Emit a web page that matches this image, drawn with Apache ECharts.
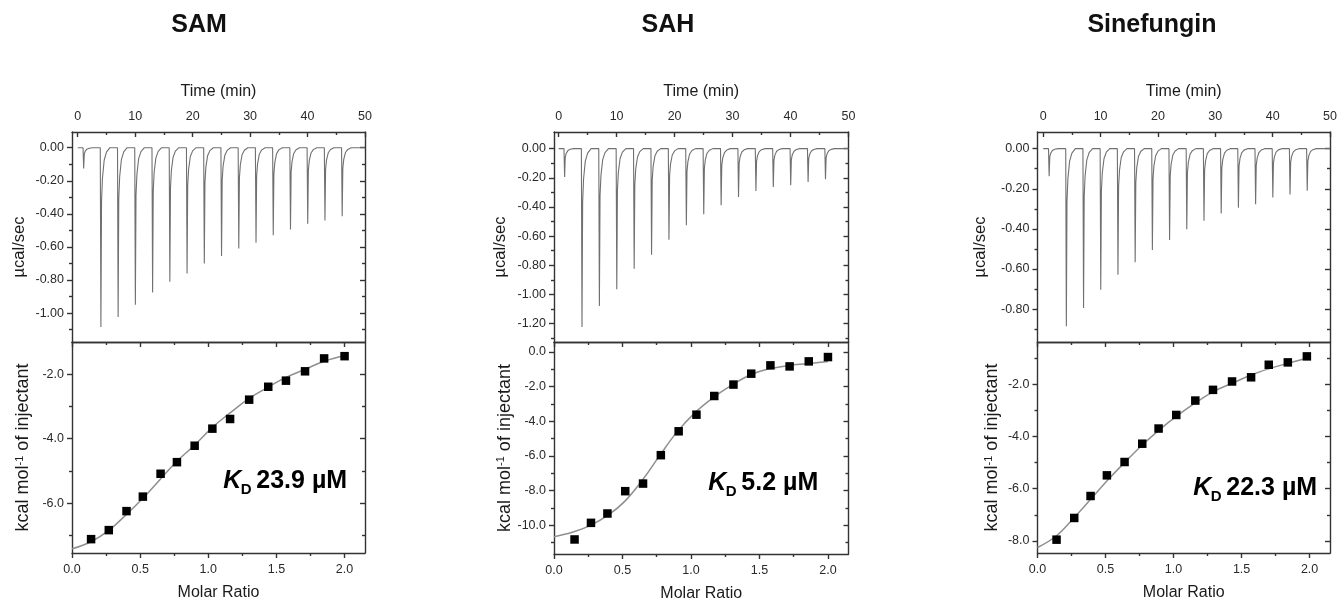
<!DOCTYPE html>
<html><head><meta charset="utf-8">
<script src="https://cdn.jsdelivr.net/npm/echarts@6/dist/echarts.min.js"></script>
<style>html,body{margin:0;padding:0;background:#fff}#c{width:1338px;height:602px}</style>
</head><body><div id="c"></div>
<script>
// ---------------- data ----------------
const panelTitles = ['SAM', 'SAH', 'Sinefungin'];
const kdLabels = ['23.9 µM', '5.2 µM', '22.3 µM'];

// raw ITC trace: injection times (min) and peak depths (µcal/sec)
const injTime = [1, 4, 7, 10, 13, 16, 19, 22, 25, 28, 31, 34, 37, 40, 43, 46];
const peakSAM = [-0.125, -1.085, -1.024, -0.95, -0.875, -0.81, -0.76, -0.70, -0.655, -0.61, -0.575, -0.53, -0.495, -0.46, -0.44, -0.415];
const peakSAH = [-0.194, -1.223, -1.079, -0.965, -0.823, -0.727, -0.624, -0.526, -0.45, -0.389, -0.331, -0.29, -0.263, -0.251, -0.229, -0.21];
const peakSine = [-0.137, -0.886, -0.795, -0.704, -0.629, -0.566, -0.505, -0.455, -0.402, -0.359, -0.323, -0.295, -0.277, -0.243, -0.229, -0.21];
// shape of one injection peak: [minutes after injection, fraction of peak depth]
const peakShape = [[-0.08, 0], [0.03, 1], [0.14, 0.3], [0.3, 0.17], [0.6, 0.07], [1.0, 0.025], [1.6, 0]];

// integrated heats
const molarSAM = [0.14, 0.27, 0.40, 0.52, 0.65, 0.77, 0.90, 1.03, 1.16, 1.30, 1.44, 1.57, 1.71, 1.85, 2.00];
const heatSAM = [-7.12, -6.84, -6.25, -5.80, -5.09, -4.73, -4.22, -3.69, -3.39, -2.79, -2.39, -2.20, -1.91, -1.51, -1.44];
const molarSAH = [0.15, 0.27, 0.39, 0.52, 0.65, 0.78, 0.91, 1.04, 1.17, 1.31, 1.44, 1.58, 1.72, 1.86, 2.00];
const heatSAH = [-10.83, -9.87, -9.33, -8.04, -7.60, -5.96, -4.58, -3.62, -2.54, -1.88, -1.25, -0.77, -0.83, -0.54, -0.29];
const molarSine = [0.14, 0.27, 0.39, 0.51, 0.64, 0.77, 0.89, 1.02, 1.16, 1.29, 1.43, 1.57, 1.70, 1.84, 1.98];
const heatSine = [-7.95, -7.12, -6.28, -5.49, -4.98, -4.28, -3.70, -3.18, -2.63, -2.22, -1.90, -1.74, -1.26, -1.17, -0.94];

// fitted curves read at these molar ratios
const fitX = [0, 0.14, 0.27, 0.40, 0.52, 0.65, 0.77, 0.90, 1.03, 1.16, 1.30, 1.44, 1.57, 1.71, 1.85, 2.00];
const fitSAM = [-7.42, -7.20, -6.85, -6.35, -5.85, -5.25, -4.70, -4.20, -3.65, -3.20, -2.75, -2.40, -2.10, -1.85, -1.60, -1.42];
const fitSAH = [-10.67, -10.40, -10.00, -9.40, -8.60, -7.35, -6.00, -4.60, -3.50, -2.65, -1.90, -1.30, -0.97, -0.78, -0.67, -0.54];
const fitSine = [-8.25, -7.80, -7.10, -6.35, -5.65, -4.95, -4.33, -3.73, -3.20, -2.72, -2.27, -1.95, -1.65, -1.40, -1.19, -0.98];

// tick values
const timeTicks = [0, 10, 20, 30, 40, 50];
const timeMinor = [5, 15, 25, 35, 45];
const molarTicks = [0, 0.5, 1.0, 1.5, 2.0];
const molarMinor = [0.25, 0.75, 1.25, 1.75];
const rateTicksSAM = [0, -0.2, -0.4, -0.6, -0.8, -1.0];
const rateMinorSAM = [-0.1, -0.3, -0.5, -0.7, -0.9, -1.1];
const rateTicksSAH = [0, -0.2, -0.4, -0.6, -0.8, -1.0, -1.2];
const rateMinorSAH = [-0.1, -0.3, -0.5, -0.7, -0.9, -1.1, -1.3];
const rateTicksSine = [0, -0.2, -0.4, -0.6, -0.8];
const rateMinorSine = [-0.1, -0.3, -0.5, -0.7, -0.9];
const heatTicksSAM = [-2, -4, -6];
const heatMinorSAM = [-3, -5, -7];
const heatTicksSAH = [0, -2, -4, -6, -8, -10];
const heatMinorSAH = [-1, -3, -5, -7, -9, -11];
const heatTicksSine = [-2, -4, -6, -8];
const heatMinorSine = [-1, -3, -5, -7];

// axis ranges
const timeMin = [-1, -0.8, -1];
const timeMax = [50, 50, 50];
const rateRange = [[-1.175, 0.095], [-1.326, 0.114], [-0.964, 0.083]];
const heatRange = [[-7.55, -1.0], [-11.67, 0.58], [-8.46, -0.39]];
const molarMax = 2.15;

// ---------------- layout (pixels) ----------------
const gridLeft = [72, 554, 1037.5];
const gridWidth = [293, 294.5, 292.5];
const topTop = 132, topH = 210, botTop = 342;
const botH = [211, 212, 211];
const titleX = [199, 668, 1152];
const kdX = [223.3, 708.3, 1193.3];
const kdBase = [489.3, 491.7, 496.7];
const rateNameGap = [44, 45, 49];
const heatNameGap = [40, 40, 36];

const FONT = '"Liberation Sans", Arial, Helvetica, sans-serif';
const AX = '#333';
const lineSt = { color: AX, width: 1.4 };

const peaksList = [peakSAM, peakSAH, peakSine];
const molarList = [molarSAM, molarSAH, molarSine];
const heatList = [heatSAM, heatSAH, heatSine];
const fitList = [fitSAM, fitSAH, fitSine];
const rateTicksList = [rateTicksSAM, rateTicksSAH, rateTicksSine];
const rateMinorList = [rateMinorSAM, rateMinorSAH, rateMinorSine];
const heatTicksList = [heatTicksSAM, heatTicksSAH, heatTicksSine];
const heatMinorList = [heatMinorSAM, heatMinorSAH, heatMinorSine];

function buildTrace(times, peaks) {
  const pts = [[0, 0]];
  times.forEach((t, i) => {
    peakShape.forEach(s => pts.push([t + s[0], peaks[i] * s[1]]));
  });
  pts.push([50, 0]);
  return pts;
}
function zipXY(xs, ys) { return xs.map((x, i) => [x, ys[i]]); }

const labelSt = { color: '#2a2a2a', fontSize: 12.5, fontFamily: FONT };
const nameSt = { color: '#1a1a1a', fontSize: 16, fontFamily: FONT };

// x-axes for one grid: labelled side + opposite (frame) side
function makeX(gi, min, max, majors, minors, side, fmt, name, nameGap, margin) {
  const labelOut = side === 'bottom';
  const other = side === 'top' ? 'bottom' : 'top';
  const oppTicks = other === 'top';
  const base = { gridIndex: gi, type: 'value', min, max, splitLine: { show: false } };
  return [
    Object.assign({}, base, {
      position: side, name, nameLocation: 'middle', nameGap, nameTextStyle: nameSt,
      axisLine: { show: true, onZero: false, lineStyle: lineSt },
      axisTick: { show: true, inside: !labelOut, length: 5, customValues: majors, lineStyle: lineSt },
      axisLabel: Object.assign({ show: true, customValues: majors, formatter: fmt, margin }, labelSt)
    }),
    Object.assign({}, base, {
      position: side,
      axisLine: { show: false, onZero: false },
      axisTick: { show: true, inside: !labelOut, length: 3, customValues: minors, lineStyle: lineSt },
      axisLabel: { show: false }
    }),
    Object.assign({}, base, {
      position: other,
      axisLine: { show: true, onZero: false, lineStyle: lineSt },
      axisTick: { show: oppTicks, inside: true, length: 5, customValues: majors, lineStyle: lineSt },
      axisLabel: { show: false }
    }),
    Object.assign({}, base, {
      position: other,
      axisLine: { show: false, onZero: false },
      axisTick: { show: oppTicks, inside: true, length: 3, customValues: minors, lineStyle: lineSt },
      axisLabel: { show: false }
    })
  ];
}
function makeY(gi, min, max, majors, minors, fmt, name, nameGap, nameStyle) {
  const base = { gridIndex: gi, type: 'value', min, max, splitLine: { show: false } };
  return [
    Object.assign({}, base, {
      position: 'left', name, nameLocation: 'middle', nameGap, nameTextStyle: nameStyle,
      axisLine: { show: true, onZero: false, lineStyle: lineSt },
      axisTick: { show: true, inside: false, length: 5, customValues: majors, lineStyle: lineSt },
      axisLabel: Object.assign({ show: true, customValues: majors, formatter: fmt, margin: 8 }, labelSt)
    }),
    Object.assign({}, base, {
      position: 'left',
      axisLine: { show: false, onZero: false },
      axisTick: { show: true, inside: false, length: 3, customValues: minors, lineStyle: lineSt },
      axisLabel: { show: false }
    }),
    Object.assign({}, base, {
      position: 'right',
      axisLine: { show: true, onZero: false, lineStyle: lineSt },
      axisTick: { show: true, inside: true, length: 5, customValues: majors, lineStyle: lineSt },
      axisLabel: { show: false }
    }),
    Object.assign({}, base, {
      position: 'right',
      axisLine: { show: false, onZero: false },
      axisTick: { show: true, inside: true, length: 3, customValues: minors, lineStyle: lineSt },
      axisLabel: { show: false }
    })
  ];
}

const grid = [], xAxis = [], yAxis = [], series = [], graphic = [];

panelTitles.forEach((title, i) => {
  const gT = grid.length;
  grid.push({ left: gridLeft[i], width: gridWidth[i], top: topTop, height: topH, containLabel: false, outerBoundsMode: 'none' });
  const gB = grid.length;
  grid.push({ left: gridLeft[i], width: gridWidth[i], top: botTop, height: botH[i], containLabel: false, outerBoundsMode: 'none' });

  const xT = xAxis.length;
  xAxis.push(...makeX(gT, timeMin[i], timeMax[i], timeTicks, timeMinor, 'top', v => String(v), 'Time (min)', 32, 9));
  const yT = yAxis.length;
  yAxis.push(...makeY(gT, rateRange[i][0], rateRange[i][1], rateTicksList[i], rateMinorList[i],
    v => v.toFixed(2), 'µcal/sec', rateNameGap[i],
    Object.assign({}, nameSt, { fontSize: 16.5, padding: [0, 20, 0, 0] })));

  const xB = xAxis.length;
  xAxis.push(...makeX(gB, 0, molarMax, molarTicks, molarMinor, 'bottom', v => v.toFixed(1), 'Molar Ratio', 32, 10.5));
  const yB = yAxis.length;
  yAxis.push(...makeY(gB, heatRange[i][0], heatRange[i][1], heatTicksList[i], heatMinorList[i],
    v => v.toFixed(1), 'kcal mol{sup|-1} of injectant', heatNameGap[i],
    Object.assign({}, nameSt, { fontSize: 18, rich: { sup: { fontSize: 11, fontFamily: FONT, color: '#1a1a1a', verticalAlign: 'top', padding: [0, 0, 7, 0] } } })));

  series.push({
    type: 'line', xAxisIndex: xT, yAxisIndex: yT, data: buildTrace(injTime, peaksList[i]),
    showSymbol: false, symbol: 'none', lineStyle: { color: '#707070', width: 1.1 }, silent: true, animation: false
  });
  series.push({
    type: 'line', xAxisIndex: xB, yAxisIndex: yB, data: zipXY(fitX, fitList[i]), smooth: 0.4,
    showSymbol: false, symbol: 'none', lineStyle: { color: '#8f8f8f', width: 1.5 }, silent: true, animation: false
  });
  series.push({
    type: 'scatter', xAxisIndex: xB, yAxisIndex: yB, data: zipXY(molarList[i], heatList[i]),
    symbol: 'rect', symbolSize: 8.5, itemStyle: { color: '#000', opacity: 1 }, silent: true, animation: false, z: 5
  });

  graphic.push({ type: 'text', x: titleX[i], y: 33.3 - 0.3465 * 25,
    style: { text: title, font: 'bold 25px ' + FONT, fill: '#111', align: 'center', textAlign: 'center', verticalAlign: 'middle', textVerticalAlign: 'middle' } });
  graphic.push({ type: 'text', x: kdX[i], y: kdBase[i] - 0.3465 * 25,
    style: { text: 'K', font: 'italic bold 25px ' + FONT, fill: '#000', align: 'left', textAlign: 'left', verticalAlign: 'middle', textVerticalAlign: 'middle' } });
  graphic.push({ type: 'text', x: kdX[i] + 17.4, y: kdBase[i] + 5.7 - 0.3465 * 15,
    style: { text: 'D', font: 'bold 15px ' + FONT, fill: '#000', align: 'left', textAlign: 'left', verticalAlign: 'middle', textVerticalAlign: 'middle' } });
  graphic.push({ type: 'text', x: kdX[i] + 33, y: kdBase[i] - 0.3465 * 25,
    style: { text: kdLabels[i], font: 'bold 25px ' + FONT, fill: '#000', align: 'left', textAlign: 'left', verticalAlign: 'middle', textVerticalAlign: 'middle' } });
});

const chart = echarts.init(document.getElementById('c'), null, { renderer: 'canvas' });
chart.setOption({
  backgroundColor: '#fff',
  animation: false,
  textStyle: { fontFamily: FONT },
  grid, xAxis, yAxis, series, graphic
});
</script>
</body></html>
